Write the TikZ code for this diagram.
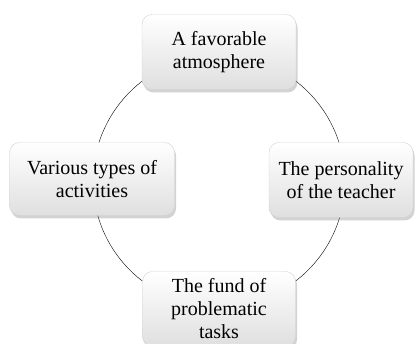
\documentclass[tikz,border=0pt]{standalone}
\usepackage{fontspec}
\setmainfont{Liberation Serif}
\usetikzlibrary{shadows}

\begin{document}
\begin{tikzpicture}[x=1pt,y=-1pt,
  box/.style={rectangle, rounded corners=10pt, draw=gray!35, top color=white, bottom color=gray!25,
    minimum height=75pt, inner sep=2pt, align=center,
    font=\fontsize{20}{23}\selectfont,
    drop shadow={shadow xshift=1.5pt, shadow yshift=-3pt, opacity=0.35, fill=gray}}]
\useasboundingbox (0,0) rectangle (417,344);
\coordinate (c) at (219,181);
\draw (c) circle (126pt);
\node[box, minimum width=154pt] (atmos) at (219,52) {A favorable\\atmosphere};
\node[box, minimum width=144pt] (teacher) at (341,180) {The personality\\of the teacher};
\node[box, minimum width=153pt] (tasks) at (219,309) {The fund of\\problematic\\tasks};
\node[box, minimum width=165pt, minimum height=73pt] (activ) at (92,179) {Various types of\\activities};
\end{tikzpicture}
\end{document}
